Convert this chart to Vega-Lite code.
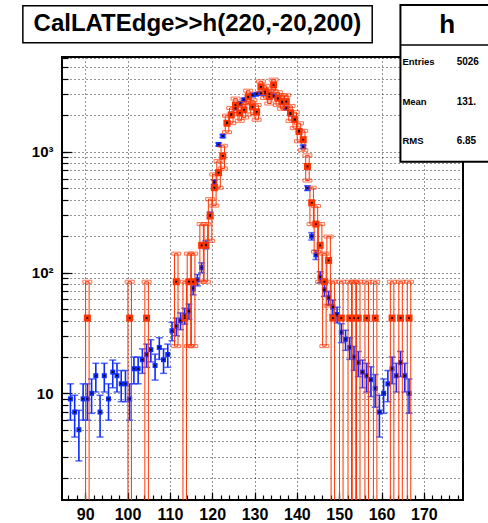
{
  "$schema": "https://vega.github.io/schema/vega-lite/v6.json",
  "width": 401,
  "height": 443,
  "autosize": {"type": "none"},
  "padding": {"left": 62, "top": 57, "right": 25, "bottom": 23},
  "background": "white",
  "config": {"view": {"stroke": "#000", "strokeWidth": 2}},
  "resolve": {"axis": {"x": "independent", "y": "independent"}},
  "datasets": {
    "one": [{}],
    "blue": [
      {"x": 86.5, "v": 9, "lo": 6, "hi": 12},
      {"x": 87.5, "v": 7, "lo": 4.35, "hi": 9.65},
      {"x": 88.5, "v": 5, "lo": 2.76, "hi": 7.24},
      {"x": 89.5, "v": 9, "lo": 6, "hi": 12},
      {"x": 90.5, "v": 9, "lo": 6, "hi": 12},
      {"x": 91.5, "v": 10, "lo": 6.84, "hi": 13.16},
      {"x": 92.5, "v": 14, "lo": 10.26, "hi": 17.74},
      {"x": 93.5, "v": 7, "lo": 4.35, "hi": 9.65},
      {"x": 94.5, "v": 14, "lo": 10.26, "hi": 17.74},
      {"x": 95.5, "v": 9, "lo": 6, "hi": 12},
      {"x": 96.5, "v": 15, "lo": 11.13, "hi": 18.87},
      {"x": 97.5, "v": 14, "lo": 10.26, "hi": 17.74},
      {"x": 98.5, "v": 12, "lo": 8.54, "hi": 15.46},
      {"x": 99.5, "v": 12, "lo": 8.54, "hi": 15.46},
      {"x": 100.5, "v": 9, "lo": 6, "hi": 12},
      {"x": 101.5, "v": 16, "lo": 12, "hi": 20},
      {"x": 102.5, "v": 16, "lo": 12, "hi": 20},
      {"x": 103.5, "v": 19, "lo": 14.64, "hi": 23.36},
      {"x": 104.5, "v": 21, "lo": 16.42, "hi": 25.58},
      {"x": 105.5, "v": 23, "lo": 18.2, "hi": 27.8},
      {"x": 106.5, "v": 17, "lo": 12.88, "hi": 21.12},
      {"x": 107.5, "v": 24, "lo": 19.1, "hi": 28.9},
      {"x": 108.5, "v": 19, "lo": 14.64, "hi": 23.36},
      {"x": 109.5, "v": 21, "lo": 16.42, "hi": 25.58},
      {"x": 110.5, "v": 33, "lo": 27.26, "hi": 38.74},
      {"x": 111.5, "v": 36, "lo": 30, "hi": 42},
      {"x": 112.5, "v": 40, "lo": 33.68, "hi": 46.32},
      {"x": 113.5, "v": 44, "lo": 37.37, "hi": 50.63},
      {"x": 114.5, "v": 48, "lo": 41.07, "hi": 54.93},
      {"x": 115.5, "v": 74, "lo": 65.4, "hi": 82.6},
      {"x": 116.5, "v": 87, "lo": 77.67, "hi": 96.33},
      {"x": 117.5, "v": 110, "lo": 99.5, "hi": 120.5},
      {"x": 118.5, "v": 170, "lo": 157, "hi": 183},
      {"x": 119.5, "v": 300, "lo": 282.7, "hi": 317.3},
      {"x": 120.5, "v": 560, "lo": 536.3, "hi": 583.7},
      {"x": 121.5, "v": 1150, "lo": 1116, "hi": 1184},
      {"x": 122.5, "v": 1350, "lo": 1313, "hi": 1387},
      {"x": 123.5, "v": 1750, "lo": 1708, "hi": 1792},
      {"x": 124.5, "v": 2050, "lo": 2005, "hi": 2095},
      {"x": 125.5, "v": 2300, "lo": 2252, "hi": 2348},
      {"x": 126.5, "v": 2500, "lo": 2450, "hi": 2550},
      {"x": 127.5, "v": 2700, "lo": 2648, "hi": 2752},
      {"x": 128.5, "v": 2850, "lo": 2797, "hi": 2903},
      {"x": 129.5, "v": 2950, "lo": 2896, "hi": 3004},
      {"x": 130.5, "v": 3000, "lo": 2945, "hi": 3055},
      {"x": 131.5, "v": 3050, "lo": 2995, "hi": 3105},
      {"x": 132.5, "v": 3050, "lo": 2995, "hi": 3105},
      {"x": 133.5, "v": 3000, "lo": 2945, "hi": 3055},
      {"x": 134.5, "v": 2900, "lo": 2846, "hi": 2954},
      {"x": 135.5, "v": 2750, "lo": 2698, "hi": 2802},
      {"x": 136.5, "v": 2550, "lo": 2500, "hi": 2600},
      {"x": 137.5, "v": 2300, "lo": 2252, "hi": 2348},
      {"x": 138.5, "v": 2050, "lo": 2005, "hi": 2095},
      {"x": 139.5, "v": 1850, "lo": 1807, "hi": 1893},
      {"x": 140.5, "v": 1500, "lo": 1461, "hi": 1539},
      {"x": 141.5, "v": 1100, "lo": 1067, "hi": 1133},
      {"x": 142.5, "v": 500, "lo": 478, "hi": 522},
      {"x": 143.5, "v": 200, "lo": 186, "hi": 214},
      {"x": 144.5, "v": 140, "lo": 128, "hi": 152},
      {"x": 145.5, "v": 92, "lo": 82.4, "hi": 101.6},
      {"x": 146.5, "v": 72, "lo": 63.5, "hi": 80.5},
      {"x": 147.5, "v": 62, "lo": 54.1, "hi": 69.9},
      {"x": 148.5, "v": 52, "lo": 44.8, "hi": 59.2},
      {"x": 149.5, "v": 45, "lo": 38.3, "hi": 51.7},
      {"x": 150.5, "v": 32, "lo": 26.3, "hi": 37.7},
      {"x": 151.5, "v": 28, "lo": 22.7, "hi": 33.3},
      {"x": 152.5, "v": 24, "lo": 19.1, "hi": 28.9},
      {"x": 153.5, "v": 20, "lo": 15.5, "hi": 24.5},
      {"x": 154.5, "v": 18, "lo": 13.76, "hi": 22.24},
      {"x": 155.5, "v": 15, "lo": 11.13, "hi": 18.87},
      {"x": 156.5, "v": 14, "lo": 10.26, "hi": 17.74},
      {"x": 157.5, "v": 13, "lo": 9.4, "hi": 16.6},
      {"x": 158.5, "v": 11, "lo": 7.68, "hi": 14.32},
      {"x": 159.5, "v": 7, "lo": 4.35, "hi": 9.65},
      {"x": 160.5, "v": 10, "lo": 6.84, "hi": 13.16},
      {"x": 161.5, "v": 12, "lo": 8.54, "hi": 15.46},
      {"x": 162.5, "v": 16, "lo": 12, "hi": 20},
      {"x": 163.5, "v": 14, "lo": 10.26, "hi": 17.74},
      {"x": 164.5, "v": 18, "lo": 13.76, "hi": 22.24},
      {"x": 165.5, "v": 14, "lo": 10.26, "hi": 17.74},
      {"x": 166.5, "v": 10, "lo": 6.84, "hi": 13.16}
    ],
    "red": [
      {"x": 90.5, "v": 42, "lo": 1, "hi": 84},
      {"x": 100.5, "v": 42, "lo": 1, "hi": 84},
      {"x": 104.5, "v": 42, "lo": 1, "hi": 84},
      {"x": 111.5, "v": 84, "lo": 24.6, "hi": 143.4},
      {"x": 113.5, "v": 42, "lo": 1, "hi": 84},
      {"x": 114.5, "v": 84, "lo": 24.6, "hi": 143.4},
      {"x": 115.5, "v": 84, "lo": 24.6, "hi": 143.4},
      {"x": 117.5, "v": 168, "lo": 84, "hi": 252},
      {"x": 118.5, "v": 168, "lo": 84, "hi": 252},
      {"x": 119.5, "v": 294, "lo": 183, "hi": 405},
      {"x": 120.5, "v": 504, "lo": 358.5, "hi": 649.5},
      {"x": 121.5, "v": 672, "lo": 504, "hi": 840},
      {"x": 122.5, "v": 924, "lo": 727, "hi": 1121},
      {"x": 123.5, "v": 1722, "lo": 1453, "hi": 1991},
      {"x": 124.5, "v": 2016, "lo": 1725, "hi": 2307},
      {"x": 125.5, "v": 2436, "lo": 2116, "hi": 2756},
      {"x": 126.5, "v": 2100, "lo": 1803, "hi": 2397},
      {"x": 127.5, "v": 2226, "lo": 1920, "hi": 2532},
      {"x": 128.5, "v": 2856, "lo": 2510, "hi": 3202},
      {"x": 129.5, "v": 2352, "lo": 2038, "hi": 2666},
      {"x": 130.5, "v": 2142, "lo": 1842, "hi": 2442},
      {"x": 131.5, "v": 3444, "lo": 3064, "hi": 3824},
      {"x": 132.5, "v": 3150, "lo": 2786, "hi": 3514},
      {"x": 133.5, "v": 2856, "lo": 2510, "hi": 3202},
      {"x": 134.5, "v": 3570, "lo": 3183, "hi": 3957},
      {"x": 135.5, "v": 2772, "lo": 2431, "hi": 3113},
      {"x": 136.5, "v": 2604, "lo": 2273, "hi": 2935},
      {"x": 137.5, "v": 2604, "lo": 2273, "hi": 2935},
      {"x": 138.5, "v": 2100, "lo": 1803, "hi": 2397},
      {"x": 139.5, "v": 1848, "lo": 1569, "hi": 2127},
      {"x": 140.5, "v": 1470, "lo": 1221, "hi": 1719},
      {"x": 141.5, "v": 1260, "lo": 1030, "hi": 1490},
      {"x": 142.5, "v": 756, "lo": 578, "hi": 934},
      {"x": 143.5, "v": 378, "lo": 252, "hi": 504},
      {"x": 144.5, "v": 252, "lo": 149, "hi": 355},
      {"x": 145.5, "v": 168, "lo": 84, "hi": 252},
      {"x": 146.5, "v": 84, "lo": 24.6, "hi": 143.4},
      {"x": 147.5, "v": 126, "lo": 53.3, "hi": 198.7},
      {"x": 148.5, "v": 42, "lo": 1, "hi": 84},
      {"x": 150.5, "v": 42, "lo": 1, "hi": 84},
      {"x": 152.5, "v": 42, "lo": 1, "hi": 84},
      {"x": 153.5, "v": 42, "lo": 1, "hi": 84},
      {"x": 154.5, "v": 42, "lo": 1, "hi": 84},
      {"x": 156.5, "v": 42, "lo": 1, "hi": 84},
      {"x": 158.5, "v": 42, "lo": 1, "hi": 84},
      {"x": 162.5, "v": 42, "lo": 1, "hi": 84},
      {"x": 164.5, "v": 42, "lo": 1, "hi": 84},
      {"x": 166.5, "v": 42, "lo": 1, "hi": 84}
    ]
  },
  "layer": [
    {
      "data": {"name": "blue"},
      "mark": {"type": "rule", "color": "#0b2bff", "strokeWidth": 1.6, "clip": true},
      "encoding": {
        "x": {"field": "x", "type": "quantitative", "scale": {"domain": [85.69, 178.07], "nice": false, "zero": false},
          "axis": {"orient": "bottom", "title": null, "labels": false, "domain": false, "grid": false, "tickSize": -5, "tickColor": "#000", "tickWidth": 1.2,
            "values": [86,88,90,92,94,96,98,100,102,104,106,108,110,112,114,116,118,120,122,124,126,128,130,132,134,136,138,140,142,144,146,148,150,152,154,156,158,160,162,164,166,168,170,172,174,176,178]}},
        "y": {"field": "lo", "type": "quantitative", "scale": {"type": "log", "domain": [1.31, 6090], "nice": false},
          "axis": {"orient": "left", "title": null, "labels": false, "domain": false, "grid": true, "gridDash": [1, 3], "gridColor": "#000", "gridWidth": 1, "gridOpacity": 0.85,
            "tickSize": -6, "tickColor": "#000", "tickWidth": 1.2,
            "values": [2,3,4,5,6,7,8,9,10,20,30,40,50,60,70,80,90,100,200,300,400,500,600,700,800,900,1000,2000,3000,4000,5000,6000]}},
        "y2": {"field": "hi"}
      }
    },
    {
      "data": {"name": "blue"},
      "mark": {"type": "tick", "orient": "horizontal", "color": "#0b2bff", "size": 7, "thickness": 1.5, "clip": true},
      "encoding": {
        "x": {"field": "x", "type": "quantitative", "scale": {"domain": [85.69, 178.07], "nice": false, "zero": false},
          "axis": {"orient": "bottom", "title": null, "domain": false, "grid": true, "gridDash": [1, 3], "gridColor": "#000", "gridWidth": 1, "gridOpacity": 0.85,
            "tickSize": -8, "tickColor": "#000", "tickWidth": 1.2, "labelPadding": 14,
            "labelFont": "Liberation Sans", "labelFontWeight": "bold", "labelFontSize": 16, "labelColor": "#000",
            "values": [90,100,110,120,130,140,150,160,170]}},
        "y": {"field": "hi", "type": "quantitative", "scale": {"type": "log", "domain": [1.31, 6090], "nice": false},
          "axis": {"orient": "left", "title": null, "domain": false, "grid": false,
            "tickSize": -10, "tickColor": "#000", "tickWidth": 1.2, "labelPadding": 19,
            "labelFont": "Liberation Sans", "labelFontWeight": "bold", "labelFontSize": 15, "labelColor": "#000",
            "labelExpr": "datum.value == 1000 ? '10³' : datum.value == 100 ? '10²' : '10'",
            "values": [10, 100, 1000]}}
      }
    },
    {
      "data": {"name": "blue"},
      "mark": {"type": "tick", "orient": "horizontal", "color": "#0b2bff", "size": 7, "thickness": 1.5, "clip": true},
      "encoding": {
        "x": {"field": "x", "type": "quantitative", "axis": null},
        "y": {"field": "lo", "type": "quantitative", "scale": {"type": "log"}, "axis": null}
      }
    },
    {
      "data": {"name": "blue"},
      "mark": {"type": "square", "size": 25, "color": "#0b2bff", "opacity": 1, "clip": true},
      "encoding": {
        "x": {"field": "x", "type": "quantitative", "axis": null},
        "y": {"field": "v", "type": "quantitative", "scale": {"type": "log"}, "axis": null}
      }
    },
    {
      "data": {"name": "red"},
      "mark": {"type": "bar", "size": 3.5, "fill": "transparent", "stroke": "#ff3300", "strokeWidth": 1, "clip": true},
      "encoding": {
        "x": {"field": "x", "type": "quantitative", "axis": null},
        "y": {"field": "lo", "type": "quantitative", "scale": {"type": "log"}, "axis": null},
        "y2": {"field": "hi"}
      }
    },
    {
      "data": {"name": "red"},
      "mark": {"type": "tick", "orient": "horizontal", "size": 9, "thickness": 3, "fill": "transparent", "stroke": "#ff3300", "strokeWidth": 1, "clip": true},
      "encoding": {
        "x": {"field": "x", "type": "quantitative", "axis": null},
        "y": {"field": "hi", "type": "quantitative", "scale": {"type": "log"}, "axis": null}
      }
    },
    {
      "data": {"name": "red"},
      "mark": {"type": "tick", "orient": "horizontal", "size": 9, "thickness": 3, "fill": "transparent", "stroke": "#ff3300", "strokeWidth": 1, "clip": true},
      "encoding": {
        "x": {"field": "x", "type": "quantitative", "axis": null},
        "y": {"field": "lo", "type": "quantitative", "scale": {"type": "log"}, "axis": null}
      }
    },
    {
      "data": {"name": "red"},
      "mark": {"type": "square", "size": 49, "color": "#ff3300", "opacity": 1, "clip": true},
      "encoding": {
        "x": {"field": "x", "type": "quantitative", "axis": null},
        "y": {"field": "v", "type": "quantitative", "scale": {"type": "log"}, "axis": null}
      }
    },
    {
      "data": {"name": "blue"},
      "mark": {"type": "square", "size": 3, "color": "#000", "opacity": 1, "clip": true},
      "encoding": {
        "x": {"field": "x", "type": "quantitative", "axis": null},
        "y": {"field": "v", "type": "quantitative", "scale": {"type": "log"}, "axis": null}
      }
    },
    {
      "data": {"name": "red"},
      "mark": {"type": "square", "size": 3, "color": "#000", "opacity": 1, "clip": true},
      "encoding": {
        "x": {"field": "x", "type": "quantitative", "axis": null},
        "y": {"field": "v", "type": "quantitative", "scale": {"type": "log"}, "axis": null}
      }
    },
    {
      "data": {"name": "one"},
      "mark": {"type": "rect", "fill": "white", "stroke": "#000", "strokeWidth": 1.5, "clip": false},
      "encoding": {
        "x": {"datum": 75.26, "type": "quantitative", "axis": null},
        "x2": {"datum": 157.8},
        "y": {"datum": 16170, "type": "quantitative", "scale": {"type": "log"}, "axis": null},
        "y2": {"datum": 7985}
      }
    },
    {
      "data": {"name": "one"},
      "mark": {"type": "text", "text": "CalLATEdge>>h(220,-20,200)", "font": "Liberation Sans", "fontWeight": "bold", "fontSize": 24, "align": "center", "baseline": "middle", "color": "#000", "clip": false},
      "encoding": {
        "x": {"datum": 116.5, "type": "quantitative", "axis": null},
        "y": {"datum": 11350, "type": "quantitative", "scale": {"type": "log"}, "axis": null}
      }
    },
    {
      "data": {"name": "one"},
      "mark": {"type": "rect", "fill": "white", "stroke": "#000", "strokeWidth": 2, "clip": false},
      "encoding": {
        "x": {"datum": 164.47, "type": "quantitative", "axis": null},
        "x2": {"datum": 190},
        "y": {"datum": 16386, "type": "quantitative", "scale": {"type": "log"}, "axis": null},
        "y2": {"datum": 826.5}
      }
    },
    {
      "data": {"name": "one"},
      "mark": {"type": "rule", "stroke": "#000", "strokeWidth": 1.5, "clip": false},
      "encoding": {
        "x": {"datum": 164.47, "type": "quantitative", "axis": null},
        "x2": {"datum": 190},
        "y": {"datum": 7645, "type": "quantitative", "scale": {"type": "log"}, "axis": null}
      }
    },
    {
      "data": {"name": "one"},
      "mark": {"type": "text", "text": "h", "font": "Liberation Sans", "fontWeight": "bold", "fontSize": 26, "align": "center", "baseline": "middle", "color": "#000", "clip": false},
      "encoding": {
        "x": {"datum": 175.5, "type": "quantitative", "axis": null},
        "y": {"datum": 11190, "type": "quantitative", "scale": {"type": "log"}, "axis": null}
      }
    },
    {
      "data": {"name": "one"},
      "mark": {"type": "text", "text": ["Entries", "Mean", "RMS"], "lineHeight": 39.5, "font": "Liberation Sans", "fontWeight": "bold", "fontSize": 9.5, "align": "left", "baseline": "middle", "color": "#000", "clip": false},
      "encoding": {
        "x": {"datum": 164.93, "type": "quantitative", "axis": null},
        "y": {"datum": 5528, "type": "quantitative", "scale": {"type": "log"}, "axis": null}
      }
    },
    {
      "data": {"name": "one"},
      "mark": {"type": "text", "text": ["5026", "131.", "6.85"], "lineHeight": 39.5, "font": "Liberation Sans", "fontWeight": "bold", "fontSize": 10, "align": "left", "baseline": "middle", "color": "#000", "clip": false},
      "encoding": {
        "x": {"datum": 177.76, "type": "quantitative", "axis": null},
        "y": {"datum": 5528, "type": "quantitative", "scale": {"type": "log"}, "axis": null}
      }
    }
  ]
}
